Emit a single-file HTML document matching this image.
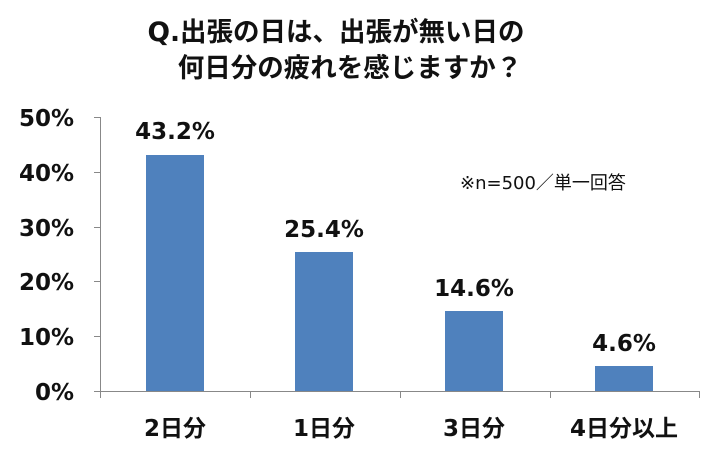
<!DOCTYPE html><html><head><meta charset="utf-8"><style>body{margin:0;background:#fff}text{font-family:"DejaVu Sans","Noto Sans CJK JP",sans-serif}</style></head><body>
<svg width="720" height="459" xmlns="http://www.w3.org/2000/svg">
<g font-weight="bold" fill="#111">
<text x="336" y="41" font-size="26.5" text-anchor="middle">Q.出張の日は、出張が無い日の</text>
<text x="350" y="77" font-size="26.5" text-anchor="middle">何日分の疲れを感じますか？</text>
</g>
<g stroke="#888" stroke-width="1">
<line x1="100.5" y1="117" x2="100.5" y2="398"/>
<line x1="100" y1="391.5" x2="700" y2="391.5"/>
<line x1="94" y1="117.5" x2="100" y2="117.5"/>
<line x1="94" y1="172.5" x2="100" y2="172.5"/>
<line x1="94" y1="227.5" x2="100" y2="227.5"/>
<line x1="94" y1="281.5" x2="100" y2="281.5"/>
<line x1="94" y1="336.5" x2="100" y2="336.5"/>
<line x1="94" y1="391.5" x2="100" y2="391.5"/>
<line x1="250.5" y1="391" x2="250.5" y2="398"/>
<line x1="400.5" y1="391" x2="400.5" y2="398"/>
<line x1="550.5" y1="391" x2="550.5" y2="398"/>
<line x1="699.5" y1="391" x2="699.5" y2="398"/>
</g>
<g font-weight="bold" font-size="23" fill="#111" text-anchor="end">
<text x="74" y="126">50%</text><text x="74" y="181">40%</text><text x="74" y="236">30%</text>
<text x="74" y="290">20%</text><text x="74" y="345">10%</text><text x="74" y="400">0%</text>
</g>
<g fill="#4f81bd">
<rect x="146" y="155" width="58" height="236"/>
<rect x="295" y="252" width="58" height="139"/>
<rect x="445" y="311" width="58" height="80"/>
<rect x="595" y="366" width="58" height="25"/>
</g>
<g font-weight="bold" font-size="23" fill="#111" text-anchor="middle">
<text x="175" y="139">43.2%</text><text x="324" y="237">25.4%</text>
<text x="474" y="296">14.6%</text><text x="624" y="351">4.6%</text>
</g>
<g font-weight="bold" font-size="23" fill="#111" text-anchor="middle">
<text x="175" y="436">2日分</text><text x="324" y="436">1日分</text>
<text x="474" y="436">3日分</text><text x="624" y="436">4日分以上</text>
</g>
<text x="460" y="189" font-size="18" fill="#111">※n=500／単一回答</text>
</svg></body></html>
